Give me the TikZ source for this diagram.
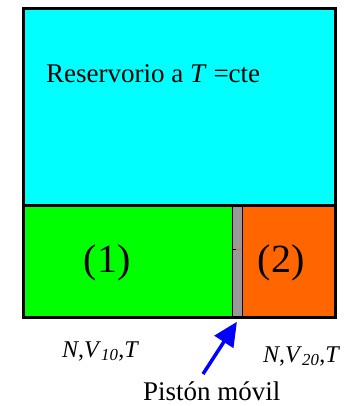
\documentclass[tikz,border=0pt]{standalone}
\usepackage{fontspec}
\setmainfont{Liberation Serif}
\usetikzlibrary{arrows.meta}
\definecolor{rescyan}{RGB}{0,255,255}
\definecolor{gasgreen}{RGB}{0,255,0}
\definecolor{gasorange}{RGB}{255,102,0}
\definecolor{pistgray}{RGB}{153,153,153}
\definecolor{arrblue}{RGB}{0,0,255}
\begin{document}
\begin{tikzpicture}[x=1pt,y=-1pt,
  region/.style={draw=black,line width=3pt,inner sep=0pt,outer sep=0pt},
  lbl/.style={inner sep=0pt,anchor=base west},
  pointer/.style={draw=arrblue,line width=3.5pt,-{Triangle[length=24pt,width=22pt]}}]
\useasboundingbox (0,0) rectangle (344,406);
\fill[rescyan] (23.5,8.5) rectangle (335.5,205);
\fill[gasgreen] (23.5,205) rectangle (232,317);
\fill[gasorange] (242,205) rectangle (335.5,317);
\node[draw=black,line width=0.8pt,fill=pistgray,minimum width=10pt,minimum height=112pt,inner sep=0pt,anchor=north west] (piston) at (232,205) {};
\draw[black,line width=0.8pt] (232,249) -- (236,249);
\draw[gasorange,line width=0.8pt] (237,249) -- (241,249);
\draw[region] (23.5,8.5) rectangle (335.5,317);
\draw[region] (23.5,205) -- (335.5,205);
\node[lbl,font=\fontsize{27}{30}\selectfont] (restext) at (46,83) {Reservorio a \textit{T} =cte};
\node[font=\fontsize{40}{44}\selectfont,inner sep=0pt] (g1) at (107,263) {(1)};
\node[font=\fontsize{40}{44}\selectfont,inner sep=0pt] (g2) at (281,263) {(2)};
\node[lbl,font=\fontsize{24}{27}\selectfont] (st1) at (62,357) {\textit{N},\textit{V}\textsubscript{\textit{10}},\textit{T}};
\node[lbl,font=\fontsize{24}{27}\selectfont] (st2) at (263,362) {\textit{N},\textit{V}\textsubscript{\textit{20}},\textit{T}};
\node[lbl,font=\fontsize{27}{30}\selectfont] (plabel) at (143,400) {Pistón móvil};
\coordinate (tail) at (203,374);
\draw[pointer] (tail) -- ([xshift=-0.5pt,yshift=-4pt]piston.south);
\end{tikzpicture}
\end{document}
